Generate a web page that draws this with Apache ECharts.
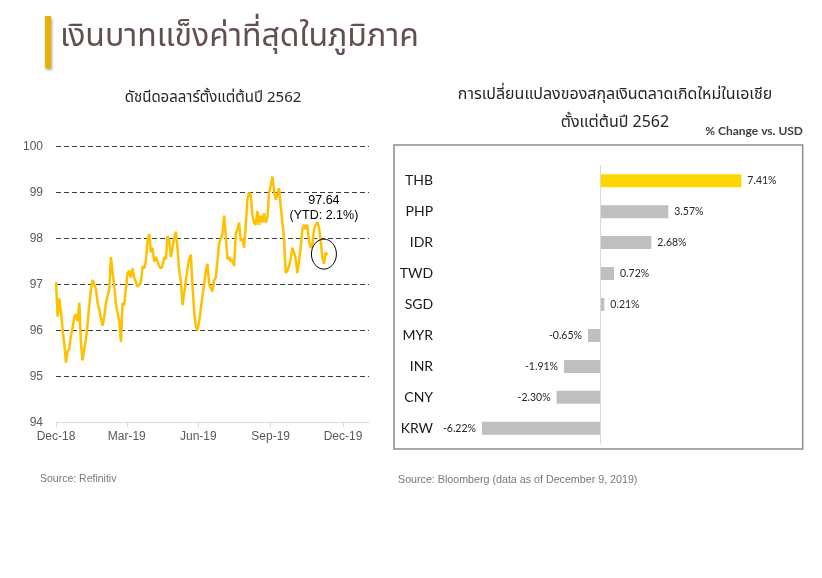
<!DOCTYPE html>
<html>
<head>
<meta charset="utf-8">
<script src="https://cdn.jsdelivr.net/npm/echarts@6/dist/echarts.min.js"></script>
<style>
html,body{margin:0;padding:0;background:#fff;}
#main{width:822px;height:578px;}
</style>
</head>
<body>
<div id="main"></div>
<script>
// ---- Dollar index (DXY) since start of 2562 ----
// values sampled evenly between first day (31 Dec 2018, day 0) and last day (day 345)
const dxyValues = [
97.05,96.3,96.7,96.4,96.0,95.7,95.3,95.55,95.6,95.9,
96.05,96.3,96.35,96.2,96.6,95.7,95.35,95.6,95.8,96.15,
96.55,96.9,97.1,97.0,96.9,96.6,96.45,96.45,96.1,96.3,
96.6,96.75,96.9,97.6,97.25,97.0,96.55,96.55,96.2,95.75,
96.6,96.55,96.9,97.25,97.3,97.15,97.35,97.15,97.05,96.95,
97.0,97.05,97.4,97.35,97.5,97.95,98.1,97.7,97.8,97.5,
97.6,97.6,97.4,97.35,97.4,97.6,97.55,98.05,97.95,97.6,
97.6,98.0,98.15,97.8,97.3,97.1,96.55,96.8,96.8,97.35,
97.55,97.65,97.0,96.4,96.1,96.0,96.2,96.2,96.75,97.0,
97.3,97.45,97.0,97.0,96.85,97.1,97.15,97.5,97.9,98.0,
98.1,98.5,98.05,97.55,97.6,97.5,97.55,97.4,98.1,98.2,
98.35,97.95,98.0,97.8,98.3,98.85,99.0,98.95,98.5,98.35,
98.3,98.6,98.3,98.5,98.35,98.55,98.35,98.45,99.0,99.15,
99.35,99.05,98.85,98.95,99.1,98.7,98.35,98.0,97.25,97.3,
97.4,97.55,97.8,97.7,97.55,97.25,97.5,97.8,98.2,98.3,
98.2,98.3,97.95,97.8,97.85,98.2,98.3,98.35,98.25,97.95,
97.6,97.45,97.7,97.64
];
const dxyFirstDay = 0;      // 31 Dec 2018
const dxyLastDay = 345;     // ~11 Dec 2019
const dxyAxisEndDay = 398;
const dxyTickDays = [0, 90, 181, 273, 365];
const dxyTickLabels = ['Dec-18', 'Mar-19', 'Jun-19', 'Sep-19', 'Dec-19'];
const dxyYTicks = [94, 95, 96, 97, 98, 99, 100];
const dxyNote = ['97.64', '(YTD: 2.1%)'];

// ---- Asian EM currencies % change vs USD ----
const currencies = ['THB', 'PHP', 'IDR', 'TWD', 'SGD', 'MYR', 'INR', 'CNY', 'KRW'];
const changes = [7.41, 3.57, 2.68, 0.72, 0.21, -0.65, -1.91, -2.30, -6.22];
const highlightCurrency = 'THB';

const THAI = '"Noto Sans Thai","Noto Sans Thai UI","Tahoma","Leelawadee UI","DejaVu Sans",sans-serif';
const ARIAL = '"Liberation Sans",Arial,sans-serif';
const CAL = 'Lato,"Open Sans",sans-serif';

const step = (dxyLastDay - dxyFirstDay) / (dxyValues.length - 1);
const dxyData = dxyValues.map((v, i) => [dxyFirstDay + i * step, v]);

const chart = echarts.init(document.getElementById('main'), null, {renderer: 'canvas'});

const splitColors = dxyYTicks.map((t, i) => i === 0 ? 'rgba(0,0,0,0)' : '#3a3a3a');

const option = {
  backgroundColor: '#ffffff',
  animation: false,
  grid: [
    {left: 56, top: 146.7, width: 313, height: 275.6},
    {left: 448.1, top: 165.2, width: 342.5, height: 278.6}
  ],
  xAxis: [
    {
      gridIndex: 0, type: 'value', min: 0, max: dxyAxisEndDay,
      axisLine: {show: true, lineStyle: {color: '#d9d9d9', width: 1}},
      axisTick: {show: true, customValues: dxyTickDays, length: 5, lineStyle: {color: '#d9d9d9'}},
      axisLabel: {
        customValues: dxyTickDays, color: '#595959', fontSize: 12, fontFamily: ARIAL, margin: 8,
        formatter: v => { const k = dxyTickDays.indexOf(v); return k >= 0 ? dxyTickLabels[k] : ''; }
      },
      splitLine: {show: false}
    },
    {
      gridIndex: 1, type: 'value', min: -8, max: 10, show: false
    }
  ],
  yAxis: [
    {
      gridIndex: 0, type: 'value', min: 94, max: 100, interval: 1,
      axisLine: {show: false}, axisTick: {show: false},
      axisLabel: {color: '#595959', fontSize: 12, fontFamily: ARIAL, margin: 13},
      splitLine: {show: true, lineStyle: {color: splitColors, type: [5, 3], width: 1.2}}
    },
    {
      gridIndex: 1, type: 'category', inverse: true, data: currencies,
      axisLine: {show: false}, axisTick: {show: false},
      axisLabel: {color: '#1a1a1a', fontSize: 14, fontFamily: CAL, margin: 15}
    }
  ],
  series: [
    {
      type: 'line', xAxisIndex: 0, yAxisIndex: 0, data: dxyData,
      showSymbol: false, symbol: 'none',
      lineStyle: {color: '#FFC000', width: 2.5},
      z: 3
    },
    {
      type: 'bar', xAxisIndex: 1, yAxisIndex: 1, barWidth: 13,
      data: changes.map((v, i) => ({
        value: v,
        itemStyle: {color: currencies[i] === highlightCurrency ? '#FFD700' : '#BFBFBF'},
        label: {position: v >= 0 ? 'right' : 'left'}
      })),
      label: {
        show: true, distance: 6, fontSize: 10.5, fontFamily: CAL, color: '#262626',
        formatter: p => p.value.toFixed(2) + '%'
      },
      markLine: {
        silent: true, symbol: ['none', 'none'], label: {show: false},
        lineStyle: {color: '#d9d9d9', width: 1, type: 'solid'},
        data: [{xAxis: 0}]
      }
    }
  ],
  graphic: [
    {type: 'rect', shape: {x: 45, y: 16, width: 6, height: 52},
     style: {fill: '#EBB000', shadowBlur: 3, shadowColor: 'rgba(0,0,0,0.35)', shadowOffsetX: 1, shadowOffsetY: 2}},
    {type: 'text', x: 60, y: 40,
     style: {text: 'เงินบาทแข็งค่าที่สุดในภูมิภาค', font: '32px ' + THAI, fill: '#62504f', textVerticalAlign: 'middle'}},
    {type: 'text', x: 213, y: 99,
     style: {text: 'ดัชนีดอลลาร์ตั้งแต่ต้นปี 2562', font: '15px ' + THAI, fill: '#262626', textAlign: 'center', textVerticalAlign: 'middle'}},
    {type: 'text', x: 615, y: 96,
     style: {text: 'การเปลี่ยนแปลงของสกุลเงินตลาดเกิดใหม่ในเอเชีย', font: '16px ' + THAI, fill: '#262626', textAlign: 'center', textVerticalAlign: 'middle'}},
    {type: 'text', x: 615, y: 124,
     style: {text: 'ตั้งแต่ต้นปี 2562', font: '16px ' + THAI, fill: '#262626', textAlign: 'center', textVerticalAlign: 'middle'}},
    {type: 'text', x: 803, y: 131,
     style: {text: '% Change vs. USD', font: 'bold 12px ' + CAL, fill: '#404040', textAlign: 'right', textVerticalAlign: 'middle'}},
    {type: 'rect', shape: {x: 394, y: 145, width: 408.7, height: 304},
     style: {fill: 'none', stroke: '#8c8c8c', lineWidth: 1.5}, z: -1},
    {type: 'text', x: 40, y: 479,
     style: {text: 'Source: Refinitiv', font: '10.5px ' + ARIAL, fill: '#7a7480', textVerticalAlign: 'middle'}},
    {type: 'text', x: 398, y: 480,
     style: {text: 'Source: Bloomberg (data as of December 9, 2019)', font: '10.7px ' + ARIAL, fill: '#7a7480', textVerticalAlign: 'middle'}}
  ]
};
chart.setOption(option);

// annotation tied to the last data point
const last = dxyData[dxyData.length - 1];
const p = chart.convertToPixel({gridIndex: 0}, last);
chart.setOption({
  graphic: option.graphic.concat([
    {type: 'ellipse', shape: {cx: p[0] - 3.4, cy: p[1] - 1, rx: 12.5, ry: 15},
     style: {fill: 'none', stroke: '#000', lineWidth: 1}, z: 10},
    {type: 'text', x: p[0] - 3.4, y: p[1] - 54.6,
     style: {text: dxyNote[0], font: '12.5px ' + ARIAL, fill: '#000', textAlign: 'center', textVerticalAlign: 'middle'}, z: 10},
    {type: 'text', x: p[0] - 3.4, y: p[1] - 39.6,
     style: {text: dxyNote[1], font: '12.5px ' + ARIAL, fill: '#000', textAlign: 'center', textVerticalAlign: 'middle'}, z: 10}
  ])
});
</script>
</body>
</html>
